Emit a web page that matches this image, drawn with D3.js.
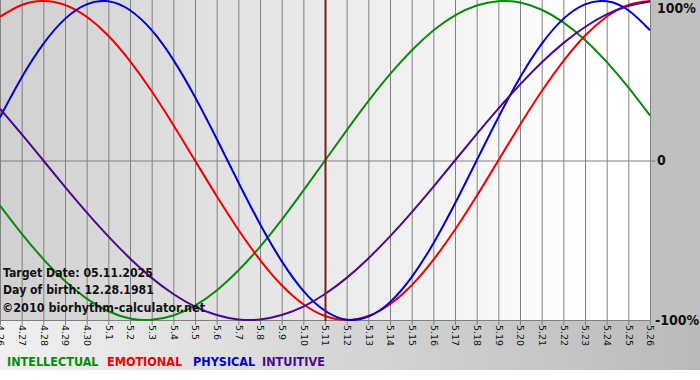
<!DOCTYPE html>
<html>
<head>
<meta charset="utf-8">
<script src="https://cdn.jsdelivr.net/npm/d3@7"></script>
<style>
  body { margin: 0; background: #fff; }
  svg { display: block; }
  text { font-family: "DejaVu Sans Condensed", "DejaVu Sans", sans-serif; }
  text.day { font-family: "DejaVu Sans", sans-serif; }
</style>
</head>
<body>
<div id="chart"></div>
<script>
// day labels along the bottom
var days = ['4.26', '4.27', '4.28', '4.29', '4.30', '5.1', '5.2', '5.3', '5.4', '5.5',
  '5.6', '5.7', '5.8', '5.9', '5.10', '5.11', '5.12', '5.13', '5.14', '5.15', '5.16',
  '5.17', '5.18', '5.19', '5.20', '5.21', '5.22', '5.23', '5.24', '5.25', '5.26'];

// values in percent, one per day
var intellectual = [-28.2, -45.8, -61.8, -75.6, -86.6, -94.5, -99.0, -99.9, -97.2, -91.0, -81.5,
  -69.0, -54.1, -37.2, -18.9, 0, 18.9, 37.2, 54.1, 69.0, 81.5, 91.0, 97.2, 99.9, 99.0, 94.5,
  86.6, 75.6, 61.8, 45.8, 28.2];
var emotional = [90.1, 97.5, 100, 97.5, 90.1, 78.2, 62.3, 43.4, 22.3, 0, -22.3, -43.4, -62.3,
  -78.2, -90.1, -97.5, -100, -97.5, -90.1, -78.2, -62.3, -43.4, -22.3, 0, 22.3, 43.4, 62.3,
  78.2, 90.1, 97.5, 100];
var physical = [27.0, 52.0, 73.1, 88.8, 97.9, 99.8, 94.2, 81.7, 63.1, 39.8, 13.6, -13.6, -39.8,
  -63.1, -81.7, -94.2, -99.8, -97.9, -88.8, -73.1, -52.0, -27.0, 0, 27.0, 52.0, 73.1, 88.8,
  97.9, 99.8, 94.2, 81.7];
var intuitive = [32.5, 16.5, 0, -16.5, -32.5, -47.6, -61.4, -73.6, -83.7, -91.6, -96.9, -99.7,
  -99.7, -96.9, -91.6, -83.7, -73.6, -61.4, -47.6, -32.5, -16.5, 0, 16.5, 32.5, 47.6, 61.4,
  73.6, 83.7, 91.6, 96.9, 99.7];

var targetDay = '5.11';
var yTicks = [100, 0, -100];
var yTickLabels = ['100%', '0', '-100%'];

var series = [
  {name: 'INTELLECTUAL', values: intellectual, color: '#0a8a0a'},
  {name: 'EMOTIONAL', values: emotional, color: '#f00000'},
  {name: 'PHYSICAL', values: physical, color: '#0000d0'},
  {name: 'INTUITIVE', values: intuitive, color: '#4b0a8c'}
];

var width = 700;
var height = 380;
var plotW = 651;
var plotH = 321;

var x = d3.scalePoint().domain(days).range([0, 650]);
var y = d3.scaleLinear().domain([-100, 100]).range([320, 1]);

var svg = d3.select("#chart").append("svg")
    .attr("width", width)
    .attr("height", height);

var defs = svg.append("defs");
var plotGrad = defs.append("linearGradient").attr("id", "plotBg");
plotGrad.append("stop").attr("offset", "0%").attr("stop-color", "#d0d0d0");
plotGrad.append("stop").attr("offset", "90%").attr("stop-color", "#ffffff");
plotGrad.append("stop").attr("offset", "100%").attr("stop-color", "#ffffff");

var lowGrad = defs.append("linearGradient").attr("id", "lowBg");
lowGrad.append("stop").attr("offset", "0%").attr("stop-color", "#f0f0f0");
lowGrad.append("stop").attr("offset", "100%").attr("stop-color", "#bababa");

defs.append("clipPath").attr("id", "clip")
  .append("rect").attr("width", plotW).attr("height", plotH);

// backgrounds
svg.append("rect").attr("x", 0).attr("y", plotH).attr("width", width).attr("height", 370 - plotH)
    .attr("fill", "url(#lowBg)");
svg.append("rect").attr("x", plotW).attr("y", 0).attr("width", width - plotW).attr("height", plotH)
    .attr("fill", "#c0c0c0");
svg.append("rect").attr("width", plotW).attr("height", plotH).attr("fill", "url(#plotBg)");

// grid
svg.selectAll(".vgrid")
    .data(days)
  .enter().append("line")
    .attr("class", "vgrid")
    .attr("x1", function(d) { return x(d) + 0.5; })
    .attr("x2", function(d) { return x(d) + 0.5; })
    .attr("y1", 0)
    .attr("y2", plotH + 4)
    .attr("stroke", "#808080");

svg.append("line")
    .attr("x1", 0).attr("x2", plotW + 4)
    .attr("y1", y(0) + 0.5).attr("y2", y(0) + 0.5)
    .attr("stroke", "#808080");
svg.append("line")
    .attr("x1", 0).attr("x2", plotW)
    .attr("y1", plotH - 0.5).attr("y2", plotH - 0.5)
    .attr("stroke", "#808080");

// curves
var line = d3.line()
    .x(function(d, i) { return x(days[i]); })
    .y(function(d) { return y(d); })
    .curve(d3.curveNatural);

svg.append("g").attr("clip-path", "url(#clip)")
  .selectAll(".curve")
    .data(series)
  .enter().append("path")
    .attr("class", "curve")
    .attr("d", function(d) { return line(d.values); })
    .attr("fill", "none")
    .attr("stroke", function(d) { return d.color; })
    .attr("stroke-width", 2);

// target day marker
svg.append("line")
    .attr("x1", x(targetDay) + 0.5).attr("x2", x(targetDay) + 0.5)
    .attr("y1", 0).attr("y2", plotH)
    .attr("stroke", "#7a1c1c")
    .attr("stroke-width", 2);

// day labels
svg.selectAll(".day")
    .data(days)
  .enter().append("text")
    .attr("class", "day")
    .attr("transform", function(d) { return "translate(" + (x(d) + 0.5) + "," + (plotH + 4) + ") rotate(90)"; })
    .attr("dy", "0.35em")
    .attr("font-size", 9.5)
    .attr("fill", "#111")
    .text(function(d) { return d; });

// percent labels
svg.selectAll(".pct")
    .data(yTicks)
  .enter().append("text")
    .attr("class", "pct")
    .attr("x", function(d, i) { return i == 2 ? 655 : 657; })
    .attr("y", function(d) { return Math.min(Math.max(y(d), 8), 321); })
    .attr("dy", "0.35em")
    .attr("font-size", 14)
    .attr("font-weight", "bold")
    .attr("fill", "#111")
    .text(function(d, i) { return yTickLabels[i]; });

// info text
var info = ['Target Date: 05.11.2025', 'Day of birth: 12.28.1981'];
svg.selectAll(".info")
    .data(info)
  .enter().append("text")
    .attr("class", "info")
    .attr("x", 3)
    .attr("y", function(d, i) { return 277 + i * 17; })
    .attr("font-size", 12.2)
    .attr("font-weight", "bold")
    .attr("fill", "#111")
    .text(function(d) { return d; });
svg.append("text")
    .attr("x", 2).attr("y", 312)
    .attr("font-size", 12.5)
    .attr("font-weight", "bold")
    .attr("fill", "#111")
    .text("\u00a92010 biorhythm-calculator.net");

// legend
var legendX = [7, 107, 193, 262];
svg.selectAll(".legend")
    .data(series)
  .enter().append("text")
    .attr("class", "legend")
    .attr("x", function(d, i) { return legendX[i]; })
    .attr("y", 366)
    .attr("font-size", 12.5)
    .attr("font-weight", "bold")
    .attr("fill", function(d) { return d.color; })
    .text(function(d) { return d.name; });
</script>
</body>
</html>
